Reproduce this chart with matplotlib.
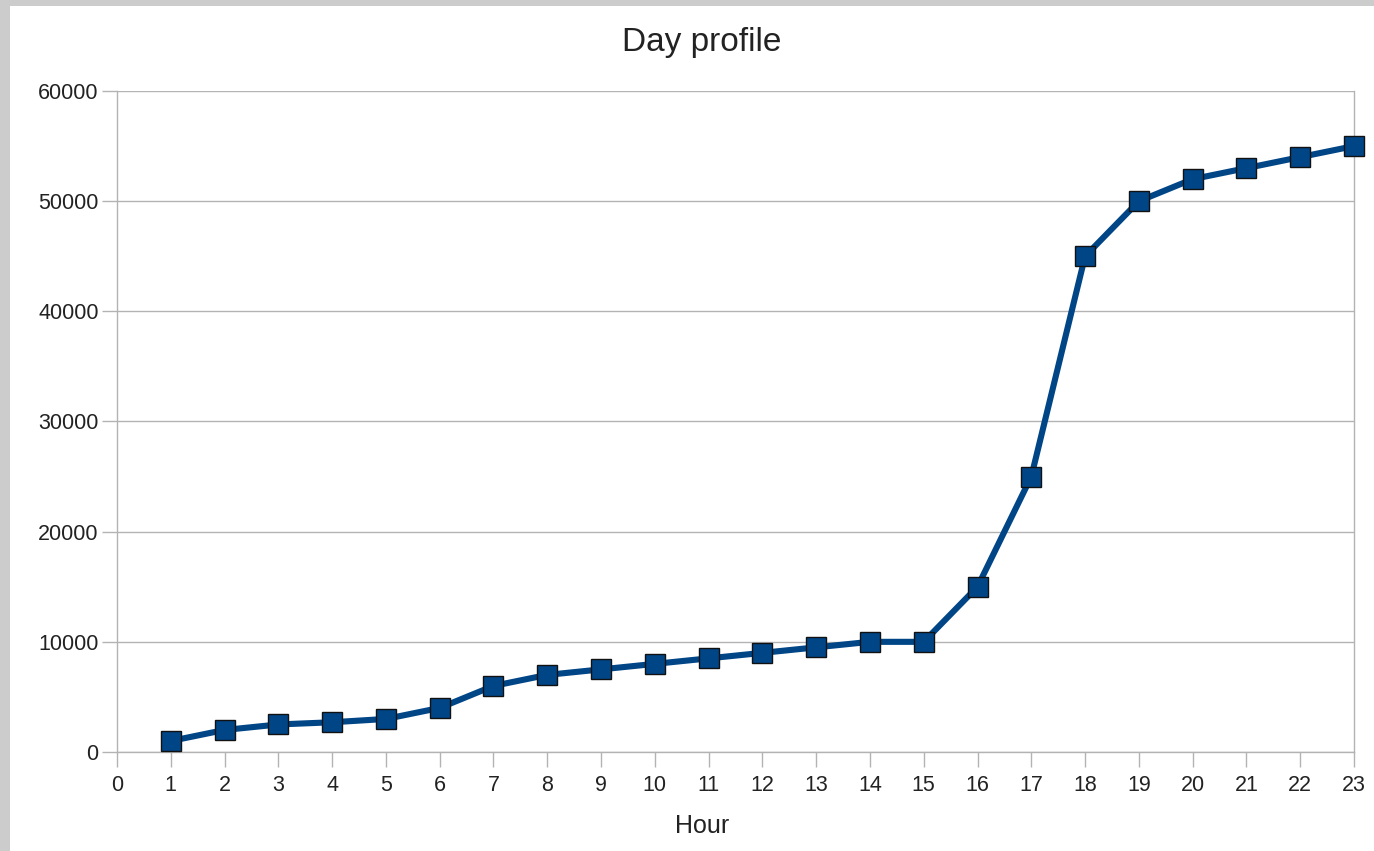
import matplotlib.pyplot as plt
from matplotlib.patches import Rectangle

plt.rcParams['font.family'] = ['Liberation Sans', 'DejaVu Sans']

hours = list(range(1, 24))
visits = [1000, 2000, 2500, 2700, 3000, 4000, 6000, 7000, 7500, 8000, 8500, 9000,
          9500, 10000, 10000, 15000, 25000, 45000, 50000, 52000, 53000, 54000, 55000]
x_ticks = list(range(0, 24))
y_ticks = [0, 10000, 20000, 30000, 40000, 50000, 60000]

grid_col = '#b3b3b3'
text_col = '#222222'

fig = plt.figure(figsize=(13.74, 8.51), dpi=100)
fig.patch.set_facecolor('white')

# grey frame along the left and top edges
fig.patches.append(Rectangle((0, 0), 10 / 1374, 1, transform=fig.transFigure,
                             facecolor='#cccccc', edgecolor='none', zorder=0))
fig.patches.append(Rectangle((0, 1 - 6 / 851), 1, 6 / 851, transform=fig.transFigure,
                             facecolor='#cccccc', edgecolor='none', zorder=0))

ax = fig.add_axes([117 / 1374, 99 / 851, (1354 - 117) / 1374, (752 - 91) / 851])

ax.plot(hours, visits, color='#004586', linewidth=4.4, marker='s', markersize=14,
        markerfacecolor='#004586', markeredgecolor='#111111', markeredgewidth=1.0,
        zorder=3, clip_on=False)

ax.set_xlim(0, 23)
ax.set_ylim(0, 60000)
ax.set_xticks(x_ticks)
ax.set_yticks(y_ticks)
ax.yaxis.grid(True, color=grid_col, linewidth=1)
ax.set_axisbelow(True)

for s in ax.spines.values():
    s.set_color(grid_col)
    s.set_linewidth(1)
ax.spines['top'].set_visible(False)

ax.tick_params(axis='both', colors=grid_col, labelcolor=text_col, labelsize=15.5,
               length=11, width=1, direction='out')
ax.tick_params(axis='x', pad=5.5)
ax.tick_params(axis='y', pad=2.2)

fig.text(0.511, 1 - 826 / 851, 'Hour', ha='center', va='center',
         fontsize=18, color=text_col)
fig.text(0.511, 1 - 43 / 851, 'Day profile', ha='center', va='center',
         fontsize=24, color=text_col)

fig.savefig('out.png', dpi=100)
